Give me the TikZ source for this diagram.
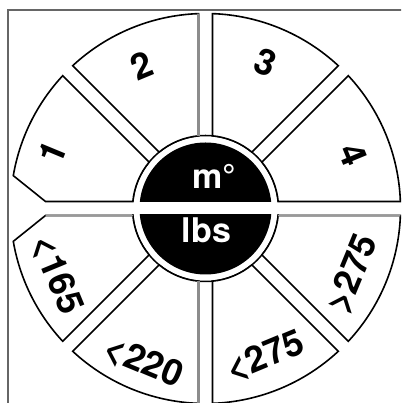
\documentclass[tikz,border=0pt]{standalone}
\usepackage{fontspec}
\setmainfont{TeX Gyre Heros}
\usepackage{tikz}
\usetikzlibrary{calc}
\tikzstyle{sector}=[draw=black,line width=1.6pt,fill=white,line join=miter]
\tikzstyle{shadeedge}=[draw=black!45,line width=2.6pt]
\tikzstyle{seglabel}=[font=\fontsize{36}{36}\selectfont\bfseries,inner sep=0pt]
\tikzstyle{hub}=[font=\fontsize{34}{34}\selectfont\bfseries,text=white,inner sep=0pt]

\begin{document}
\begin{tikzpicture}[x=1pt,y=1pt]
\useasboundingbox (0,0) rectangle (401,403);
\clip (0,0) rectangle (401,403);
\fill[white] (0,0) rectangle (401,403);
\draw[black!60,line width=1.2pt] (8,-20) rectangle (430,393);
\begin{scope}[shift={(205.5,194.5)}]
    % centre disc
    \fill[black] (0,0) circle (66);
    \draw[line width=1.5pt] (0,0) circle (73);
    \fill[white] (-76,-6) rectangle (76,6);
    % plain sectors
    \foreach \a in {0,45,90,225,270,315}
        \draw[sector] ({\a+5.5}:73) -- ({\a+2.06}:195)
            arc[start angle=\a+2.06, end angle=\a+42.94, radius=195]
            -- ({\a+39.5}:73)
            arc[start angle=\a+39.5, end angle=\a+5.5, radius=73] -- cycle;
    % cut sectors on the left
    \draw[sector] (140.5:73) -- (137.06:195)
        arc[start angle=137.06, end angle=170.3, radius=195]
        -- (-160,7) -- (174.5:73)
        arc[start angle=174.5, end angle=140.5, radius=73] -- cycle;
    \draw[sector] (185.5:73) -- (-160,-7) -- (189.7:195)
        arc[start angle=189.7, end angle=222.94, radius=195]
        -- (219.5:73)
        arc[start angle=219.5, end angle=185.5, radius=73] -- cycle;
    % grey edges
    \coordinate (vt) at (95.5:73);
    \coordinate (vb) at (264.5:73);
    \draw[shadeedge] (vt) -- (92.06:195);
    \draw[shadeedge] (vb) -- (267.94:195);
    \draw[draw=black!40,line width=1.6pt] (-160,-7) -- (185.5:73);
    \draw[draw=black!40,line width=1.6pt] (354.5:73) -- (357.94:195);
    % centre texts
    \node[hub,anchor=base] (metric) at (8.5,20) {m°};
    \node[hub,anchor=base] (pounds) at (1,-34) {lbs};
    % sector labels
    \node[seglabel,rotate=67.5] (one) at (160:163) {1};
    \node[seglabel,rotate=22.5] (two) at (114:156) {2};
    \node[seglabel,rotate=-22.5] (three) at (67.5:158) {3};
    \node[seglabel,rotate=-67.5] (four) at (20:157) {4};
    \node[seglabel,rotate=-67.5] (lt165) at (204:163) {<165};
    \node[seglabel,rotate=-22.5] (lt220) at (248:166) {<220};
    \node[seglabel,rotate=22.5] (lt275) at (292:160) {<275};
    \node[seglabel,rotate=67.5] (gt275) at (336:161) {>275};
\end{scope}
\end{tikzpicture}
\end{document}
